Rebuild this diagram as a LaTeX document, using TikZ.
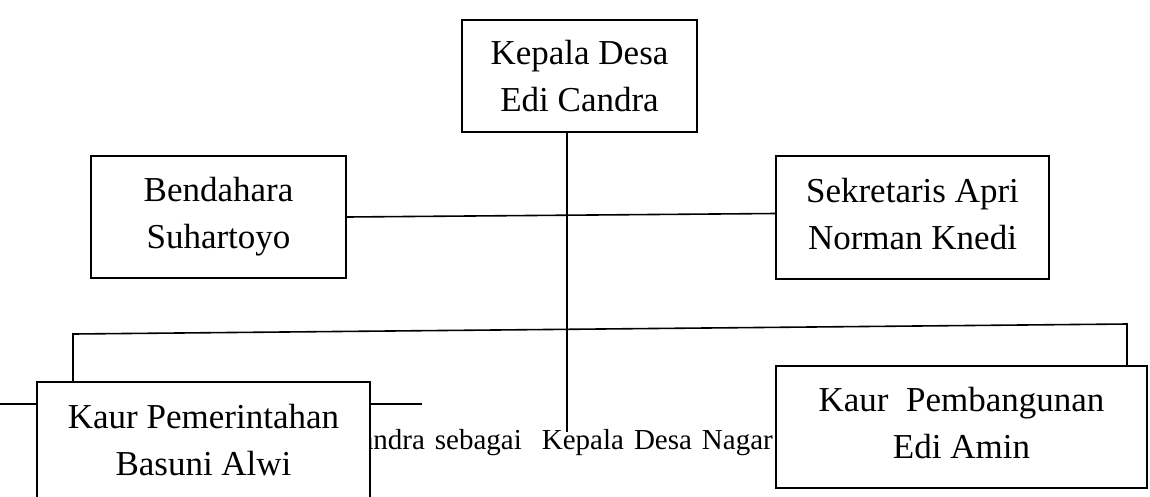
\documentclass[tikz,border=0pt]{standalone}
\usepackage{fontspec}
\setmainfont{Liberation Serif}
\usetikzlibrary{calc}
\newcommand{\spasilebar}{\spaceskip 10pt\relax}
\tikzset{
  kotak/.style      = {draw, fill=white, line width=1.6pt, align=center, inner sep=0pt,
                       font=\fontsize{35}{47}\selectfont},
  garis/.style      = {line width=1.6pt},
  keterangan/.style = {inner sep=0pt, font=\fontsize{29}{35}\selectfont\spasilebar}
}
\begin{document}
\begin{tikzpicture}[x=1pt, y=-1pt]
	\useasboundingbox (0,0) rectangle (1150,496);
	\clip (0,0) rectangle (1150,496);
	\coordinate (ujung) at (567,432);
	\coordinate (busL) at (73,334);
	\coordinate (busR) at (1127,324);
	\coordinate (garisL) at (0,404);
	\coordinate (garisR) at (422,404);

	% baris yang tertutup kotak
	\draw[garis] (garisL) -- (garisR);
	\node[keterangan, anchor=base east] (ket) at (773,449) {andra sebagai\ \ Kepala Desa Nagar};

	\node[kotak, minimum width=235pt, minimum height=112pt] (kades) at (579.5,76) {Kepala Desa\\ Edi Candra};
	\node[kotak, minimum width=255pt, minimum height=122pt] (bendahara) at (218.5,217) {Bendahara\\ Suhartoyo};
	\node[kotak, minimum width=273pt, minimum height=123pt] (sekretaris) at (912.5,217.5) {Sekretaris Apri\\ Norman Knedi\vphantom{y}};
	\node[kotak, minimum width=333pt, minimum height=116pt] (kaurpem) at (203.5,440) {Kaur Pemerintahan\\ Basuni Alwi};
	\node[kotak, minimum width=371pt, minimum height=122pt] (kaurbang) at (961.5,427) {Kaur\ \ Pembangunan\\ Edi Amin\vphantom{y}};

	\draw[garis] (kades.south -| ujung) -- (ujung);
	\draw[garis] (bendahara.east) -- ($(sekretaris.west)+(0,-4)$);
	\draw[garis] (kaurpem.north -| busL) -- (busL) -- (busR) -- (kaurbang.north -| busR);
\end{tikzpicture}
\end{document}
